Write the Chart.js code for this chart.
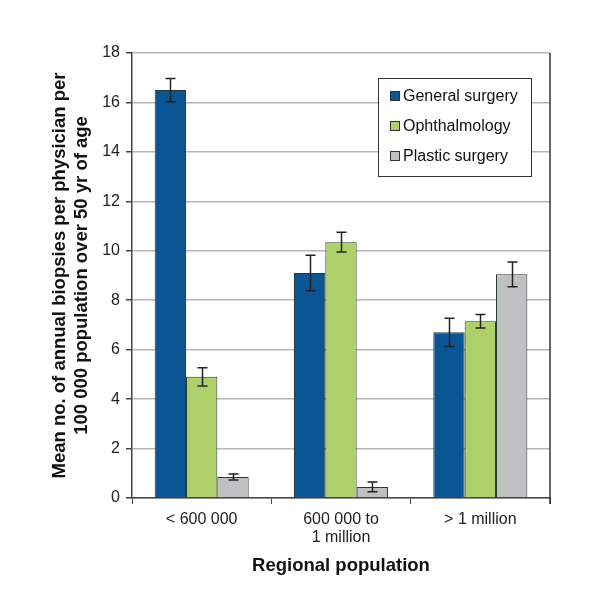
<!DOCTYPE html>
<html><head><meta charset="utf-8">
<script src="https://cdn.jsdelivr.net/npm/chart.js@4.4.1/dist/chart.umd.min.js"></script>
<style>html,body{margin:0;padding:0;background:#fff}#w{width:607px;height:609px}</style>
</head><body><div id="w"><canvas id="c" width="607" height="609"></canvas></div>
<script>
const categories = ["< 600 000", ["600 000 to", "1 million"], "> 1 million"];
const seriesNames = ["General surgery", "Ophthalmology", "Plastic surgery"];
const generalSurgery = [16.5, 9.1, 6.7];
const ophthalmology = [4.9, 10.35, 7.15];
const plasticSurgery = [0.85, 0.45, 9.05];
const generalErr = [0.47, 0.72, 0.57];
const ophthErr = [0.37, 0.4, 0.27];
const plasticErr = [0.12, 0.2, 0.5];
const yTicks = [0, 2, 4, 6, 8, 10, 12, 14, 16, 18];

const colors = ["#0b5594", "#add06b", "#bfc0c2"];
const FONT = "'Liberation Sans', Arial, sans-serif";

const errPlugin = {
  id: 'err',
  afterDatasetsDraw(chart) {
    const ctx = chart.ctx, y = chart.scales.y;
    ctx.save();
    ctx.strokeStyle = '#222'; ctx.lineWidth = 1.5;
    chart.data.datasets.forEach((ds, i) => {
      const meta = chart.getDatasetMeta(i);
      meta.data.forEach((bar, j) => {
        const v = ds.data[j], e = ds.err[j];
        const x = Math.round(bar.x) + 0.5;
        const y1 = y.getPixelForValue(v + e), y2 = y.getPixelForValue(v - e);
        ctx.beginPath();
        ctx.moveTo(x, y1); ctx.lineTo(x, y2);
        ctx.moveTo(x - 5, y1); ctx.lineTo(x + 5, y1);
        ctx.moveTo(x - 5, y2); ctx.lineTo(x + 5, y2);
        ctx.stroke();
      });
    });
    // right border of plot area
    const a = chart.chartArea;
    ctx.strokeStyle = '#333'; ctx.lineWidth = 1.5;
    ctx.beginPath();
    ctx.moveTo(a.right, a.top); ctx.lineTo(a.right, a.bottom + 6);
    ctx.stroke();
    ctx.restore();
  }
};

const legendPlugin = {
  id: 'boxLegend',
  afterDraw(chart) {
    const ctx = chart.ctx;
    const x0 = 378, y0 = 78, w = 153, h = 98;
    ctx.save();
    ctx.fillStyle = '#fff';
    ctx.fillRect(x0, y0, w, h);
    ctx.strokeStyle = '#333'; ctx.lineWidth = 1;
    ctx.strokeRect(x0 + 0.5, y0 + 0.5, w, h);
    ctx.font = "16px " + FONT;
    ctx.textBaseline = 'middle';
    chart.data.datasets.forEach((ds, i) => {
      const cy = y0 + 18 + i * 30;
      ctx.fillStyle = ds.backgroundColor;
      ctx.fillRect(x0 + 12, cy - 5, 10, 10);
      ctx.strokeStyle = '#333';
      ctx.strokeRect(x0 + 12.5, cy - 4.5, 9, 9);
      ctx.fillStyle = '#111';
      ctx.fillText(ds.label, x0 + 25, cy + 1);
    });
    ctx.restore();
  }
};

new Chart(document.getElementById('c'), {
  type: 'bar',
  data: {
    labels: categories,
    datasets: [
      { label: seriesNames[0], data: generalSurgery, err: generalErr, backgroundColor: colors[0] },
      { label: seriesNames[1], data: ophthalmology, err: ophthErr, backgroundColor: colors[1] },
      { label: seriesNames[2], data: plasticSurgery, err: plasticErr, backgroundColor: colors[2] }
    ].map(d => Object.assign(d, { borderColor: '#2a3a30', borderWidth: 1, categoryPercentage: 0.675, barPercentage: 1 }))
  },
  options: {
    responsive: false,
    animation: false,
    devicePixelRatio: 1,
    layout: { padding: { top: 53, right: 57, left: 49, bottom: 32 } },
    plugins: { legend: { display: false }, tooltip: { enabled: false } },
    scales: {
      x: {
        afterFit(s) { s.height = 79; },
        grid: { offset: true, drawOnChartArea: false, tickLength: 6, tickColor: '#444' },
        border: { color: '#444', width: 1.5 },
        ticks: { color: '#222', font: { family: FONT, size: 16, lineHeight: 1.1 }, padding: 7, maxRotation: 0 },
        title: { display: true, text: 'Regional population', color: '#111', font: { family: FONT, size: 18.5, weight: 'bold', lineHeight: 1.2 }, padding: { top: 0, bottom: 0 } }
      },
      y: {
        min: 0, max: 18,
        afterFit(s) { s.width = 83; },
        afterBuildTicks(s) { s.ticks = yTicks.map(v => ({ value: v })); },
        grid: { color: '#b6b6b6', lineWidth: 1.5, tickLength: 6, tickColor: '#444', drawTicks: true },
        border: { color: '#444', width: 1.5 },
        ticks: { color: '#222', font: { family: FONT, size: 16 }, padding: 6 },
        title: { display: true, text: ['Mean no. of annual biopsies per physician per', '100 000 population over 50 yr of age'], color: '#111', font: { family: FONT, size: 18.5, weight: 'bold', lineHeight: 1.2 }, padding: { top: 0, bottom: 0 } }
      }
    }
  },
  plugins: [errPlugin, legendPlugin]
});
</script></body></html>
